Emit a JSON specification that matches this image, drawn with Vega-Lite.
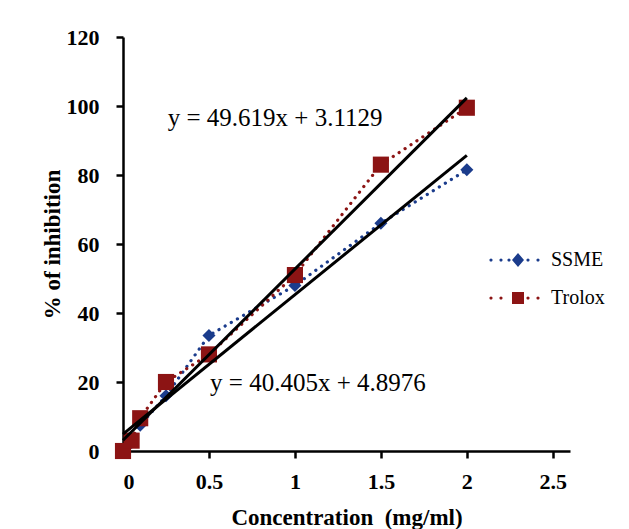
{
  "$schema": "https://vega.github.io/schema/vega-lite/v6.json",
  "width": 447,
  "height": 414,
  "autosize": "none",
  "padding": {"left": 123, "top": 37, "right": 59, "bottom": 78},
  "background": "white",
  "datasets": {
    "series": [
      {"series": "SSME", "x": 0, "y": 0},
      {"series": "SSME", "x": 0.05, "y": 2.5},
      {"series": "SSME", "x": 0.1, "y": 7.5},
      {"series": "SSME", "x": 0.25, "y": 16},
      {"series": "SSME", "x": 0.5, "y": 33.5},
      {"series": "SSME", "x": 1, "y": 48},
      {"series": "SSME", "x": 1.5, "y": 66},
      {"series": "SSME", "x": 2, "y": 81.5},
      {"series": "Trolox", "x": 0, "y": 0},
      {"series": "Trolox", "x": 0.05, "y": 3},
      {"series": "Trolox", "x": 0.1, "y": 9.5},
      {"series": "Trolox", "x": 0.25, "y": 20},
      {"series": "Trolox", "x": 0.5, "y": 28},
      {"series": "Trolox", "x": 1, "y": 51},
      {"series": "Trolox", "x": 1.5, "y": 83},
      {"series": "Trolox", "x": 2, "y": 99.5}
    ],
    "trend": [
      {"line": "Trolox", "x": 0, "y": 3.1129},
      {"line": "Trolox", "x": 2, "y": 102.35},
      {"line": "SSME", "x": 0, "y": 4.8976},
      {"line": "SSME", "x": 2, "y": 85.71}
    ],
    "labels": [
      {"x": 0.885, "y": 96.5, "text": "y = 49.619x + 3.1129"},
      {"x": 1.134, "y": 19.7, "text": "y = 40.405x + 4.8976"}
    ]
  },
  "config": {
    "view": {"stroke": null},
    "style": {"guide-label": {"font": "Liberation Serif"}},
    "axis": {
      "grid": false,
      "domainColor": "black",
      "domainWidth": 2.5,
      "tickColor": "black",
      "tickWidth": 2.5,
      "tickSize": 7,
      "labelFont": "Liberation Serif",
      "labelFontWeight": "bold",
      "labelFontSize": 22,
      "labelColor": "black",
      "titleFont": "Liberation Serif",
      "titleFontWeight": "bold",
      "titleFontSize": 23,
      "titleColor": "black"
    },
    "legend": {
      "labelFont": "Liberation Serif",
      "labelFontSize": 20,
      "labelColor": "black"
    }
  },
  "resolve": {"scale": {"shape": "independent", "fill": "independent"}},
  "layer": [
    {
      "data": {"name": "series"},
      "mark": {"type": "line", "strokeWidth": 3.2, "strokeDash": [0.1, 7], "strokeCap": "round"},
      "encoding": {
        "x": {"field": "x", "type": "quantitative", "scale": {"domain": [0, 2.5]},
          "axis": {"values": [0, 0.5, 1, 1.5, 2, 2.5], "labelExpr": "format(datum.value, '~g')", "labelPadding": 13, "titlePadding": 14, "title": "Concentration\u00a0 (mg/ml)"}},
        "y": {"field": "y", "type": "quantitative", "scale": {"domain": [0, 120]},
          "axis": {"values": [0, 20, 40, 60, 80, 100, 120], "labelPadding": 17, "titlePadding": 2, "title": "% of inhibition"}},
        "color": {"field": "series", "type": "nominal", "scale": {"domain": ["SSME", "Trolox"], "range": ["#1b3c8c", "#8c1414"]}, "legend": null},
        "detail": {"field": "series"}
      }
    },
    {
      "data": {"name": "series"},
      "mark": {"type": "point", "filled": true, "opacity": 1},
      "encoding": {
        "x": {"field": "x", "type": "quantitative"},
        "y": {"field": "y", "type": "quantitative"},
        "color": {"field": "series", "type": "nominal", "legend": null},
        "shape": {"field": "series", "type": "nominal", "scale": {"domain": ["SSME", "Trolox"], "range": ["diamond", "square"]}, "legend": null},
        "size": {"field": "series", "type": "nominal", "scale": {"domain": ["SSME", "Trolox"], "range": [170, 260]}, "legend": null}
      }
    },
    {
      "data": {"name": "series"},
      "mark": {"type": "point", "filled": true, "opacity": 0},
      "encoding": {
        "x": {"field": "x", "type": "quantitative"},
        "y": {"field": "y", "type": "quantitative"},
        "fill": {"field": "series", "type": "nominal",
          "scale": {"domain": ["SSME", "Trolox"], "range": ["#1b3c8c", "#8c1414"]},
          "legend": {
            "title": null, "orient": "none", "legendX": 385, "legendY": 213, "padding": 0,
            "symbolSize": 100, "symbolOpacity": 1, "symbolStrokeWidth": 0, "labelOffset": 23,
            "labelFont": "Liberation Serif", "labelFontSize": 20, "labelColor": "black", "rowPadding": 18,
            "encode": {"labels": {"update": {"font": {"value": "Liberation Serif"}}}}
          }
        },
        "shape": {"field": "series", "type": "nominal",
          "scale": {"domain": ["SSME", "Trolox"], "range": [
            "M-5.72,0a0.32,0.32 0 1,0 0.64,0a0.32,0.32 0 1,0 -0.64,0ZM-3.72,0a0.32,0.32 0 1,0 0.64,0a0.32,0.32 0 1,0 -0.64,0ZM-2.12,0a0.32,0.32 0 1,0 0.64,0a0.32,0.32 0 1,0 -0.64,0ZM1.68,0a0.32,0.32 0 1,0 0.64,0a0.32,0.32 0 1,0 -0.64,0ZM3.68,0a0.32,0.32 0 1,0 0.64,0a0.32,0.32 0 1,0 -0.64,0ZM0,-1.4L1.2,0L0,1.4L-1.2,0Z",
            "M-5.72,0a0.32,0.32 0 1,0 0.64,0a0.32,0.32 0 1,0 -0.64,0ZM-3.72,0a0.32,0.32 0 1,0 0.64,0a0.32,0.32 0 1,0 -0.64,0ZM1.68,0a0.32,0.32 0 1,0 0.64,0a0.32,0.32 0 1,0 -0.64,0ZM3.68,0a0.32,0.32 0 1,0 0.64,0a0.32,0.32 0 1,0 -0.64,0ZM-1.2,-1.2H1.2V1.2H-1.2Z"
          ]},
          "legend": {
            "title": null, "orient": "none", "legendX": 385, "legendY": 213, "padding": 0,
            "symbolSize": 100, "symbolOpacity": 1, "symbolStrokeWidth": 0, "labelOffset": 23,
            "labelFont": "Liberation Serif", "labelFontSize": 20, "labelColor": "black", "rowPadding": 18,
            "encode": {"labels": {"update": {"font": {"value": "Liberation Serif"}}}}
          }
        }
      }
    },
    {
      "data": {"name": "trend"},
      "mark": {"type": "line", "color": "black", "strokeWidth": 3},
      "encoding": {
        "x": {"field": "x", "type": "quantitative"},
        "y": {"field": "y", "type": "quantitative"},
        "detail": {"field": "line"}
      }
    },
    {
      "data": {"name": "labels"},
      "mark": {"type": "text", "font": "Liberation Serif", "fontSize": 25, "color": "black", "align": "center", "baseline": "middle"},
      "encoding": {
        "x": {"field": "x", "type": "quantitative"},
        "y": {"field": "y", "type": "quantitative"},
        "text": {"field": "text"}
      }
    }
  ]
}
